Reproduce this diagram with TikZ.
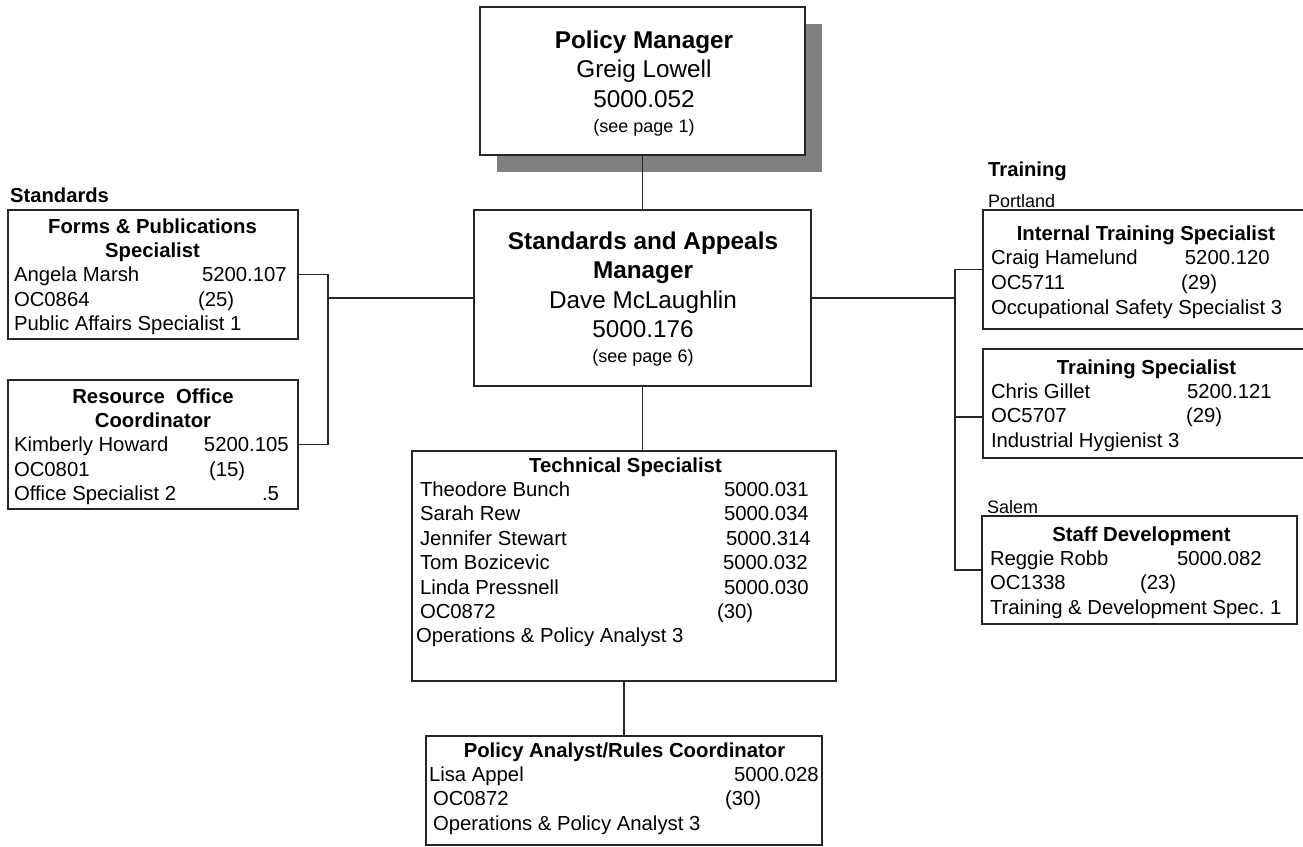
\documentclass[tikz,border=0pt]{standalone}
\usepackage{fontspec}
\setmainfont{Liberation Sans}
\frenchspacing
\usetikzlibrary{shadows}
\begin{document}
\begin{tikzpicture}[x=1pt,y=-1pt,
  frame/.style={rectangle, draw=black!85, line width=1.3pt, fill=white, inner sep=0pt, outer sep=0pt},
  link/.style={draw=black!85, line width=1.3pt},
  body/.style={inner sep=0pt, outer sep=0pt, align=flush left, anchor=base west, font=\fontsize{20.3}{24.4}\selectfont},
  head/.style={inner sep=0pt, outer sep=0pt, align=flush center, anchor=base, text width=330pt, font=\fontsize{24.3}{29.5}\selectfont},
  caption/.style={inner sep=0pt, anchor=base west, font=\fontsize{20.2}{24}\selectfont\bfseries},
  place/.style={inner sep=0pt, anchor=base west, font=\fontsize{18}{22}\selectfont},
]
\path[use as bounding box, fill=white] (0,0) rectangle (1303,846);

% boxes
\node[frame, minimum width=325pt, minimum height=148pt,
      general shadow={fill=black!50, shadow xshift=17pt, shadow yshift=-17pt}] (pm) at (642.5,81) {};
\node[frame, minimum width=337pt, minimum height=176pt] (sam) at (642.5,298) {};
\node[frame, minimum width=290pt, minimum height=129pt] (fp) at (153,274.5) {};
\node[frame, minimum width=290pt, minimum height=129pt] (ro) at (153,444.5) {};
\node[frame, minimum width=326pt, minimum height=119pt] (its) at (1146,269.5) {};
\node[frame, minimum width=326pt, minimum height=109pt] (ts) at (1146,403.5) {};
\node[frame, minimum width=315pt, minimum height=108pt] (sd) at (1139.5,570) {};
\node[frame, minimum width=424pt, minimum height=230pt] (tech) at (624,566) {};
\node[frame, minimum width=396pt, minimum height=109pt] (pa) at (624,790.5) {};

% connectors
\draw[link] (pm.south) -- (sam.north);
\coordinate (lj) at (328,298);
\draw[link] (sam.west) -- (lj);
\draw[link] (fp.east) -| (lj) |- (ro.east);
\coordinate (rj) at (955,298);
\draw[link] (sam.east) -- (rj);
\draw[link] (its.west) -| (rj) |- (sd.west);
\coordinate (tsj) at (955,417);
\draw[link] (tsj) -- (tsj -| ts.west);
\draw[link] (sam.south) -- (sam.south |- tech.north);
\draw[link] (tech.south) -- (pa.north);

% group labels
\node[caption] (stdL) at (10,202) {Standards};
\node[caption] (trnL) at (988,176) {Training};
\node[place] (porL) at (988,207) {Portland};
\node[place] (salL) at (987,513) {Salem};

% managers
\node[head] (pmT) at (644,48) {{\bfseries Policy Manager\par}Greig Lowell\par 5000.052\par{\fontsize{18}{25}\selectfont (see page 1)\par}};
\node[head] (samT) at (643,249) {{\bfseries Standards and Appeals\par Manager\par}Dave McLaughlin\par 5000.176\par{\fontsize{18}{25}\selectfont (see page 6)\par}};

% standards
\node[body, text width=277pt] (fpT) at (14,233) {\makebox[\linewidth]{\bfseries Forms \& Publications}\\
  \makebox[\linewidth]{\bfseries Specialist}\\
  \makebox[188pt][l]{Angela Marsh}5200.107\\
  \makebox[184pt][l]{OC0864}(25)\\
  Public Affairs Specialist 1};
\node[body, text width=278pt] (roT) at (14,403) {\makebox[\linewidth]{\bfseries Resource\ \ Office}\\
  \makebox[\linewidth]{\bfseries Coordinator}\\
  \makebox[190pt][l]{Kimberly Howard}5200.105\\
  \makebox[195pt][l]{OC0801}(15)\\
  \makebox[248pt][l]{Office Specialist 2}.5};

% training
\node[body, text width=310pt, font=\fontsize{20.3}{24.7}\selectfont] (itsT) at (991,240) {\makebox[\linewidth]{\bfseries Internal Training Specialist}\\
  \makebox[194pt][l]{Craig Hamelund}5200.120\\
  \makebox[190pt][l]{OC5711}(29)\\
  Occupational Safety Specialist 3};
\node[body, text width=311pt] (tsT) at (991,374) {\makebox[\linewidth]{\bfseries Training Specialist}\\
  \makebox[196pt][l]{Chris Gillet}5200.121\\
  \makebox[195pt][l]{OC5707}(29)\\
  Industrial Hygienist 3};
\node[body, text width=303pt] (sdT) at (990,541) {\makebox[\linewidth]{\bfseries Staff Development}\\
  \makebox[187pt][l]{Reggie Robb}5000.082\\
  \makebox[150pt][l]{OC1338}(23)\\
  Training \& Development Spec. 1};

% technical staff
\node[body, text width=411pt] (techT) at (420,472) {\makebox[\linewidth]{\bfseries Technical Specialist}\\
  \makebox[304pt][l]{Theodore Bunch}5000.031\\
  \makebox[304pt][l]{Sarah Rew}5000.034\\
  \makebox[306pt][l]{Jennifer Stewart}5000.314\\
  \makebox[303pt][l]{Tom Bozicevic}5000.032\\
  \makebox[304pt][l]{Linda Pressnell}5000.030\\
  \makebox[297pt][l]{OC0872}(30)\\
  \hspace*{-4pt}Operations \& Policy Analyst 3};
\node[body, text width=391pt] (paT) at (429,757) {\makebox[\linewidth]{\bfseries Policy Analyst/Rules Coordinator}\\
  \makebox[305pt][l]{Lisa Appel}5000.028\\
  \hspace*{4pt}\makebox[292pt][l]{OC0872}(30)\\
  \hspace*{4pt}Operations \& Policy Analyst 3};
\end{tikzpicture}
\end{document}
